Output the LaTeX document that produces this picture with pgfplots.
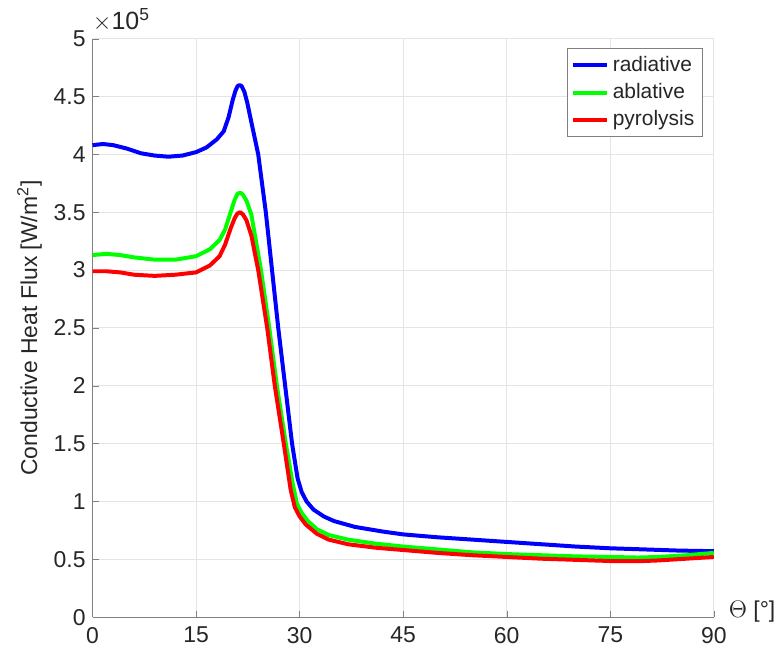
\documentclass[border=0pt]{standalone}
\usepackage{fontspec}
\setmainfont{Liberation Sans}
\usepackage{pgfplots}
\pgfplotsset{compat=1.18}
\definecolor{txt}{RGB}{38,38,38}
\definecolor{axln}{RGB}{128,128,128}
\definecolor{gridc}{RGB}{228,228,228}
\begin{document}
\begin{tikzpicture}[font=\fontsize{11.5}{13.8}\selectfont]
\begin{axis}[
  scale only axis, width=311.5pt, height=290pt,
  xmin=0, xmax=90, ymin=0, ymax=5,
  xtick={0,15,...,90}, ytick={0,0.5,...,5},
  axis lines*=left, axis line style={axln,-},
  tick style={axln}, major tick length=3pt,
  grid=major, major grid style={gridc, line width=0.5pt},
  ticklabel style={txt, font=\fontsize{11.5}{13.8}\selectfont},
  xticklabel style={yshift=-1.5pt},
  /pgf/number format/assume math mode=true,
  yticklabel style={/pgf/number format/fixed},
  xlabel={$\Theta$ [°]},
  xlabel style={txt, at={(rel axis cs:1,0)}, anchor=west, xshift=4pt, yshift=3pt},
  ylabel={Conductive Heat Flux [W/m\textsuperscript{2}]},
  ylabel style={txt, yshift=-1pt},
  clip=false,
  legend cell align=left,
  legend style={at={(rel axis cs:0.982,0.984)}, anchor=north east,
    draw=axln, fill=white, inner sep=2pt, row sep=0.5pt,
    font=\fontsize{10.5}{12.6}\selectfont, text=txt},
  legend image code/.code={\draw[#1, line width=2pt] (0pt,0pt) -- (17pt,0pt);},
  every axis plot/.append style={line width=2pt, line join=round},
]
\addplot[blue] coordinates {
(0,4.08)(1.5,4.09)(3,4.08)(5,4.05)(7,4.01)(9,3.99)(11,3.98)(13,3.99)(15,4.02)
(16.5,4.06)(18,4.13)(19,4.2)(19.7,4.32)(20.3,4.47)(20.7,4.55)(21.0,4.59)(21.3,4.6)
(21.6,4.59)(22.0,4.54)(22.4,4.45)(23,4.28)(24,4.0)(25.1,3.5)(26,3.0)(26.9,2.5)
(27.9,2.0)(28.9,1.5)(29.7,1.2)(30.3,1.08)(31,1.0)(32,0.93)(33.5,0.87)(35,0.83)
(38,0.78)(42,0.74)(45,0.715)(50,0.69)(55,0.67)(60,0.65)(65,0.63)(70,0.61)
(75,0.595)(80,0.585)(85,0.575)(90,0.57)};
\addplot[green] coordinates {
(0,3.13)(2,3.14)(4,3.13)(6,3.11)(9,3.09)(12,3.09)(15,3.12)(17,3.18)(18.4,3.26)
(19.2,3.35)(20,3.5)(20.6,3.61)(21.0,3.66)(21.4,3.67)(21.8,3.65)(22.3,3.6)(23,3.48)
(24.4,3.0)(25.6,2.5)(26.7,2.0)(28,1.5)(29,1.15)(29.6,0.98)(30.3,0.9)(31.2,0.83)
(32.5,0.76)(34.2,0.71)(37,0.67)(41,0.635)(45,0.61)(50,0.585)(55,0.56)(60,0.545)
(65,0.535)(70,0.525)(75,0.52)(79,0.515)(82,0.52)(86,0.535)(90,0.555)};
\addplot[red] coordinates {
(0,2.99)(2,2.99)(4,2.98)(6,2.96)(9,2.95)(12,2.96)(15,2.98)(17,3.04)(18.4,3.12)
(19.2,3.22)(20,3.36)(20.6,3.45)(21.0,3.49)(21.4,3.5)(21.8,3.48)(22.3,3.43)(23,3.3)
(24,3.0)(25.3,2.5)(26.4,2.0)(27.7,1.5)(28.7,1.1)(29.3,0.95)(30,0.87)(30.9,0.8)
(32.5,0.72)(34.2,0.67)(37,0.63)(41,0.6)(45,0.58)(50,0.555)(55,0.535)(60,0.52)
(65,0.505)(70,0.495)(75,0.485)(79,0.483)(82,0.49)(86,0.505)(90,0.52)};
\legend{radiative,ablative,pyrolysis}
\node[txt, anchor=south west, inner sep=0pt, font=\fontsize{12.5}{15}\selectfont]
  at (rel axis cs:0,1.012) {$\times$10\textsuperscript{5}};
\path (rel axis cs:-0.149,-0.0655) rectangle (rel axis cs:1.106,1.067);
\end{axis}
\end{tikzpicture}
\end{document}
